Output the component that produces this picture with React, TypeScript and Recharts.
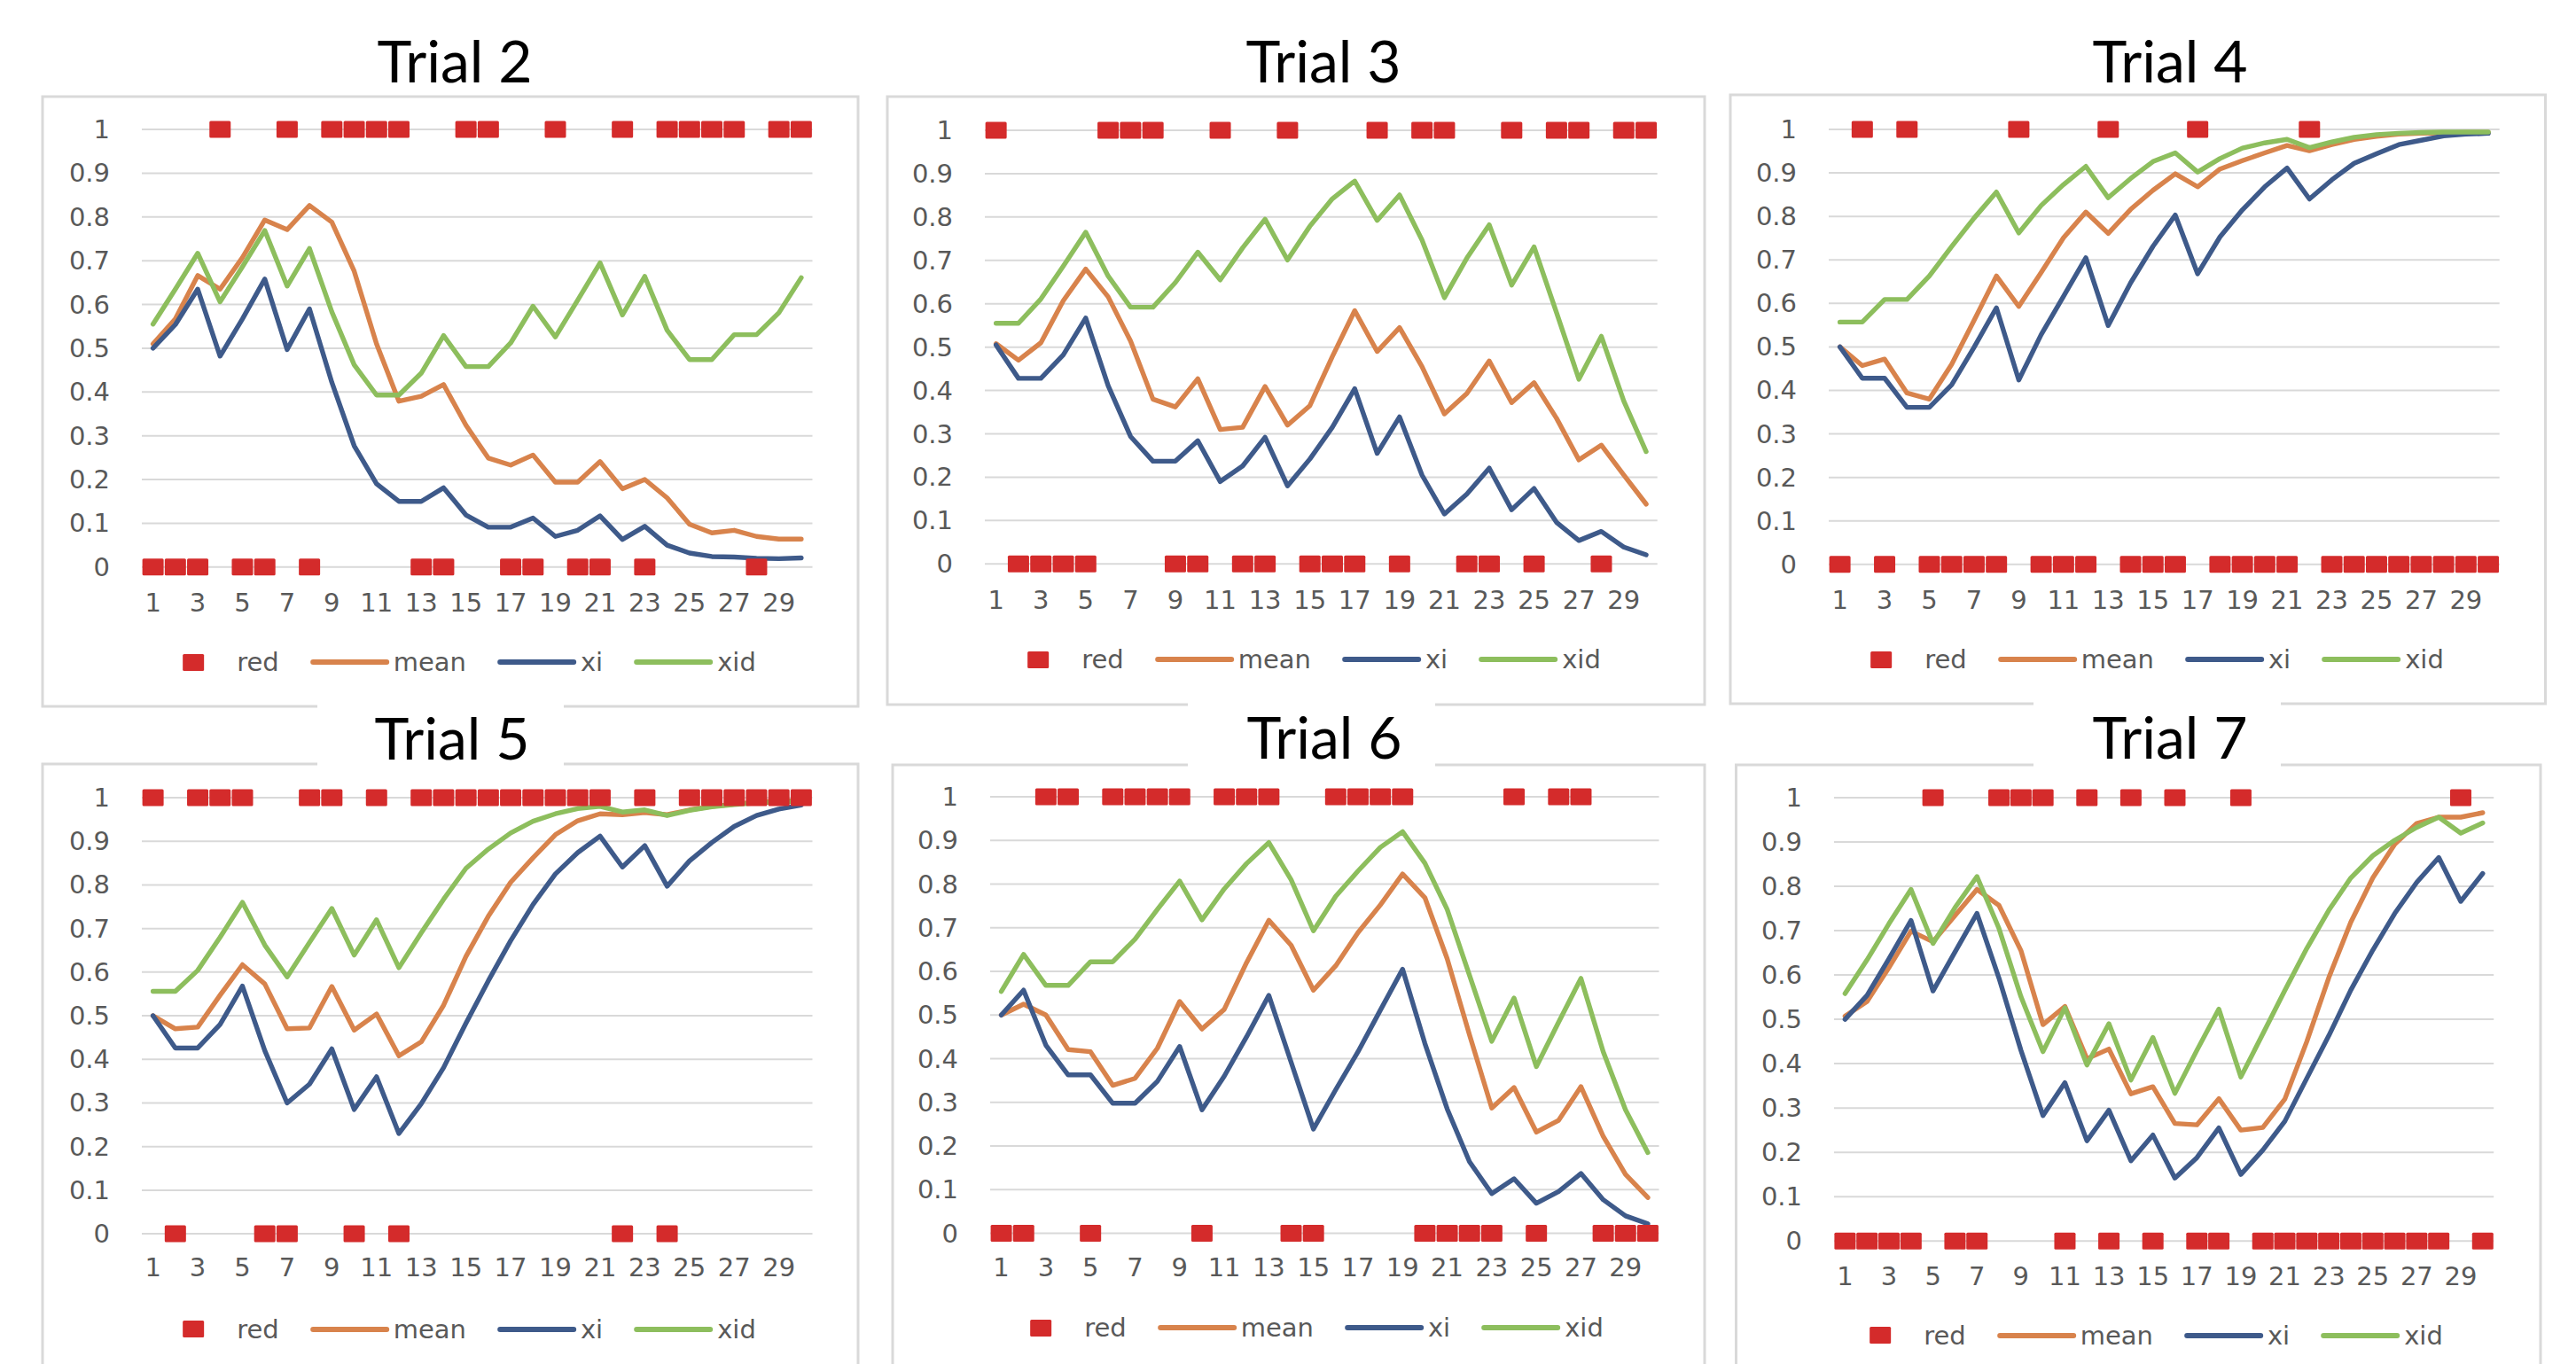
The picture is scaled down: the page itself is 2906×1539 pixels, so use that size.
import React from 'react';
import { LineChart, Line, XAxis, YAxis, CartesianGrid } from 'recharts';

// ---------- data ----------
const categories = [1, 2, 3, 4, 5, 6, 7, 8, 9, 10, 11, 12, 13, 14, 15, 16, 17, 18, 19, 20, 21, 22, 23, 24, 25, 26, 27, 28, 29, 30];
const yTicks = [0, 0.1, 0.2, 0.3, 0.4, 0.5, 0.6, 0.7, 0.8, 0.9, 1];
const seriesNames = ['red', 'mean', 'xi', 'xid'];
const trialTitles = ['Trial 2', 'Trial 3', 'Trial 4', 'Trial 5', 'Trial 6', 'Trial 7'];

const t2Red = [0, 0, 0, 1, 0, 0, 1, 0, 1, 1, 1, 1, 0, 0, 1, 1, 0, 0, 1, 0, 0, 1, 0, 1, 1, 1, 1, 0, 1, 1];
const t2Mean = [0.51, 0.567, 0.666, 0.635, 0.707, 0.793, 0.771, 0.826, 0.788, 0.676, 0.51, 0.379, 0.39, 0.417, 0.324, 0.249, 0.233, 0.256, 0.194, 0.194, 0.241, 0.179, 0.2, 0.158, 0.098, 0.078, 0.084, 0.07, 0.064, 0.064];
const t2Xi = [0.5, 0.554, 0.635, 0.482, 0.567, 0.658, 0.497, 0.59, 0.422, 0.277, 0.19, 0.15, 0.15, 0.181, 0.119, 0.091, 0.091, 0.112, 0.07, 0.084, 0.117, 0.063, 0.093, 0.05, 0.032, 0.024, 0.023, 0.02, 0.019, 0.021];
const t2Xid = [0.555, 0.635, 0.717, 0.606, 0.686, 0.769, 0.642, 0.728, 0.583, 0.462, 0.393, 0.393, 0.443, 0.529, 0.458, 0.458, 0.512, 0.596, 0.526, 0.61, 0.695, 0.576, 0.664, 0.541, 0.474, 0.474, 0.531, 0.531, 0.581, 0.661];

const t3Red = [1, 0, 0, 0, 0, 1, 1, 1, 0, 0, 1, 0, 0, 1, 0, 0, 0, 1, 0, 1, 1, 0, 0, 1, 0, 1, 1, 0, 1, 1];
const t3Mean = [0.508, 0.47, 0.51, 0.607, 0.68, 0.616, 0.514, 0.38, 0.362, 0.427, 0.31, 0.315, 0.409, 0.32, 0.365, 0.478, 0.584, 0.49, 0.545, 0.455, 0.346, 0.393, 0.468, 0.372, 0.418, 0.336, 0.24, 0.274, 0.205, 0.138];
const t3Xi = [0.505, 0.428, 0.428, 0.482, 0.567, 0.411, 0.294, 0.237, 0.237, 0.284, 0.19, 0.226, 0.292, 0.18, 0.242, 0.315, 0.404, 0.255, 0.339, 0.205, 0.115, 0.161, 0.221, 0.125, 0.174, 0.096, 0.054, 0.075, 0.039, 0.021];
const t3Xid = [0.555, 0.555, 0.611, 0.687, 0.765, 0.664, 0.592, 0.592, 0.649, 0.719, 0.655, 0.729, 0.795, 0.701, 0.779, 0.842, 0.883, 0.792, 0.851, 0.747, 0.614, 0.705, 0.782, 0.643, 0.731, 0.58, 0.426, 0.525, 0.376, 0.259];

const t4Red = [0, 1, 0, 1, 0, 0, 0, 0, 1, 0, 0, 0, 1, 0, 0, 0, 1, 0, 0, 0, 0, 1, 0, 0, 0, 0, 0, 0, 0, 0];
const t4Mean = [0.5, 0.457, 0.472, 0.394, 0.38, 0.46, 0.561, 0.663, 0.593, 0.671, 0.751, 0.81, 0.761, 0.816, 0.86, 0.898, 0.868, 0.909, 0.928, 0.946, 0.963, 0.951, 0.965, 0.977, 0.984, 0.989, 0.991, 0.992, 0.993, 0.993];
const t4Xi = [0.5, 0.428, 0.428, 0.361, 0.361, 0.413, 0.499, 0.59, 0.424, 0.528, 0.616, 0.705, 0.549, 0.647, 0.731, 0.803, 0.668, 0.753, 0.815, 0.868, 0.911, 0.84, 0.884, 0.922, 0.944, 0.965, 0.975, 0.985, 0.989, 0.991];
const t4Xid = [0.557, 0.557, 0.609, 0.609, 0.663, 0.731, 0.796, 0.856, 0.762, 0.825, 0.873, 0.915, 0.843, 0.887, 0.926, 0.946, 0.902, 0.933, 0.957, 0.969, 0.977, 0.958, 0.971, 0.982, 0.988, 0.991, 0.993, 0.994, 0.994, 0.994];

const t5Red = [1, 0, 1, 1, 1, 0, 0, 1, 1, 0, 1, 0, 1, 1, 1, 1, 1, 1, 1, 1, 1, 0, 1, 0, 1, 1, 1, 1, 1, 1];
const t5Mean = [0.5, 0.47, 0.474, 0.547, 0.617, 0.573, 0.47, 0.472, 0.567, 0.467, 0.504, 0.408, 0.44, 0.524, 0.636, 0.728, 0.806, 0.862, 0.915, 0.947, 0.963, 0.961, 0.966, 0.961, 0.972, 0.98, 0.985, 0.99, 0.992, 0.993];
const t5Xi = [0.5, 0.426, 0.426, 0.48, 0.568, 0.42, 0.3, 0.343, 0.424, 0.285, 0.36, 0.23, 0.298, 0.381, 0.483, 0.58, 0.672, 0.755, 0.825, 0.874, 0.912, 0.841, 0.89, 0.797, 0.855, 0.897, 0.934, 0.959, 0.974, 0.983];
const t5Xid = [0.556, 0.556, 0.604, 0.68, 0.76, 0.662, 0.589, 0.668, 0.746, 0.639, 0.72, 0.61, 0.69, 0.767, 0.838, 0.882, 0.919, 0.946, 0.963, 0.975, 0.98, 0.967, 0.972, 0.959, 0.971, 0.979, 0.984, 0.988, 0.99, 0.992];

const t6Red = [0, 0, 1, 1, 0, 1, 1, 1, 1, 0, 1, 1, 1, 0, 0, 1, 1, 1, 1, 0, 0, 0, 0, 1, 0, 1, 1, 0, 0, 0];
const t6Mean = [0.5, 0.525, 0.5, 0.421, 0.416, 0.339, 0.355, 0.424, 0.531, 0.468, 0.513, 0.62, 0.717, 0.66, 0.557, 0.613, 0.689, 0.752, 0.823, 0.769, 0.629, 0.455, 0.287, 0.334, 0.232, 0.259, 0.336, 0.222, 0.135, 0.082];
const t6Xi = [0.5, 0.557, 0.431, 0.363, 0.363, 0.298, 0.298, 0.348, 0.428, 0.283, 0.36, 0.45, 0.545, 0.392, 0.239, 0.329, 0.416, 0.511, 0.605, 0.435, 0.285, 0.164, 0.091, 0.125, 0.069, 0.096, 0.137, 0.077, 0.04, 0.022];
const t6Xid = [0.554, 0.639, 0.568, 0.568, 0.622, 0.622, 0.674, 0.742, 0.807, 0.718, 0.789, 0.847, 0.895, 0.81, 0.693, 0.772, 0.83, 0.884, 0.92, 0.848, 0.742, 0.591, 0.44, 0.539, 0.382, 0.484, 0.584, 0.416, 0.283, 0.185];

const t7Red = [0, 0, 0, 0, 1, 0, 0, 1, 1, 1, 0, 1, 0, 1, 0, 1, 0, 0, 1, 0, 0, 0, 0, 0, 0, 0, 0, 0, 1, 0];
const t7Mean = [0.507, 0.54, 0.617, 0.699, 0.675, 0.734, 0.793, 0.757, 0.655, 0.488, 0.529, 0.411, 0.433, 0.332, 0.348, 0.265, 0.262, 0.321, 0.25, 0.256, 0.32, 0.45, 0.594, 0.719, 0.819, 0.895, 0.942, 0.956, 0.956, 0.966];
const t7Xi = [0.5, 0.554, 0.637, 0.723, 0.564, 0.652, 0.739, 0.593, 0.43, 0.283, 0.357, 0.226, 0.295, 0.181, 0.239, 0.142, 0.188, 0.255, 0.15, 0.205, 0.27, 0.367, 0.463, 0.566, 0.656, 0.739, 0.809, 0.865, 0.766, 0.829];
const t7Xid = [0.558, 0.634, 0.716, 0.793, 0.671, 0.752, 0.822, 0.705, 0.551, 0.427, 0.526, 0.397, 0.49, 0.363, 0.459, 0.333, 0.43, 0.523, 0.37, 0.467, 0.565, 0.66, 0.746, 0.819, 0.869, 0.904, 0.933, 0.956, 0.92, 0.943];

const trialSeries = [
  [t2Red, t2Mean, t2Xi, t2Xid],
  [t3Red, t3Mean, t3Xi, t3Xid],
  [t4Red, t4Mean, t4Xi, t4Xid],
  [t5Red, t5Mean, t5Xi, t5Xid],
  [t6Red, t6Mean, t6Xi, t6Xid],
  [t7Red, t7Mean, t7Xi, t7Xid],
];

// ---------- styles / layout ----------
const COLORS = { red: '#D42B2B', mean: '#D8834C', xi: '#3E5A8A', xid: '#8DBE5D' };
const GRID = '#D9D9D9';
const TEXT = '#595959';
const TICK_FONT = '"DejaVu Sans", sans-serif';
const TITLE_FONT = 'Lato, "Open Sans", sans-serif';
const LINE_W = 5.4;

type Layout = {
  box: [number, number, number, number];
  plot: [number, number, number, number]; // left, top, right, bottom
  xLabelY: number;
  legend: [number, number];
  title: [number, number];
  titleBox?: [number, number];
};

const layouts: Layout[] = [
  { box: [48, 109, 968, 797], plot: [160, 145.7, 916.5, 639.5], xLabelY: 680, legend: [513, 747], title: [513, 92.7] },
  { box: [1001, 109, 1923, 795], plot: [1111, 146.9, 1869.7, 636.2], xLabelY: 677, legend: [1466, 744], title: [1493, 93] },
  { box: [1952, 107, 2871.5, 794], plot: [2063, 145.9, 2819.7, 636.7], xLabelY: 677, legend: [2417, 744], title: [2448, 93] },
  { box: [48, 862, 968, 1700], plot: [160, 899.9, 916.5, 1392], xLabelY: 1430, legend: [513, 1499.5], title: [510, 857], titleBox: [358, 636] },
  { box: [1007, 863, 1923, 1700], plot: [1117, 898.9, 1871.5, 1391.5], xLabelY: 1430, legend: [1469, 1498], title: [1494, 855.5], titleBox: [1340, 1619] },
  { box: [1958.5, 863, 2866, 1700], plot: [2069.4, 899.9, 2813.6, 1400.1], xLabelY: 1440, legend: [2416, 1506.7], title: [2448, 855.5], titleBox: [2294, 2573] },
];

const ML = 150; // space left of plot (y axis)
const MT = 30;
const MR = 30;
const MB = 80;

const fmtY = (v: number) => (Number.isInteger(v) ? String(v) : v.toFixed(1));

function Panel({ idx }: { idx: number }) {
  const L = layouts[idx];
  const [red, mean, xi, xid] = trialSeries[idx];
  const data = categories.map((c, i) => ({ x: c, red: red[i], mean: mean[i], xi: xi[i], xid: xid[i] }));
  const [pl, pt, pr, pb] = L.plot;
  const pw = pr - pl;
  const ph = pb - pt;
  const W = pw + ML + MR;
  const H = ph + MT + MB;
  const pad = pw / 60;
  const xLabelLocal = L.xLabelY - (pt - MT);

  const square = (props: any) => {
    const { cx, cy, index } = props;
    if (cx == null || cy == null) return <g key={`sq-${index}`} />;
    return <rect key={`sq-${index}`} x={cx - 12} y={cy - 9.5} width={24} height={19} rx={1.5} fill={COLORS.red} />;
  };

  const yTick = (props: any) => {
    const { y, payload } = props;
    return (
      <text x={ML - 36} y={y} textAnchor="end" dominantBaseline="central" fontFamily={TICK_FONT} fontSize={29} fill={TEXT}>
        {fmtY(payload.value)}
      </text>
    );
  };
  const xTick = (props: any) => {
    const { x, payload } = props;
    return (
      <text x={x} y={xLabelLocal} textAnchor="middle" dominantBaseline="central" fontFamily={TICK_FONT} fontSize={29} fill={TEXT}>
        {payload.value}
      </text>
    );
  };

  return (
    <div style={{ position: 'absolute', left: pl - ML, top: pt - MT, width: W, height: H }}>
      <LineChart width={W} height={H} data={data} margin={{ top: MT, right: MR, bottom: 0, left: 0 }}>
        <CartesianGrid vertical={false} stroke={GRID} strokeWidth={2} />
        <XAxis
          dataKey="x"
          type="category"
          interval={1}
          height={MB}
          axisLine={false}
          tickLine={false}
          padding={{ left: pad, right: pad }}
          tick={xTick}
        />
        <YAxis
          type="number"
          domain={[0, 1]}
          ticks={yTicks}
          interval={0}
          width={ML}
          axisLine={false}
          tickLine={false}
          tick={yTick}
        />
        <Line dataKey="red" stroke="none" isAnimationActive={false} dot={square} activeDot={false} legendType="square" />
        <Line dataKey="mean" stroke={COLORS.mean} strokeWidth={LINE_W} strokeLinejoin="round" strokeLinecap="round" dot={false} activeDot={false} isAnimationActive={false} />
        <Line dataKey="xi" stroke={COLORS.xi} strokeWidth={LINE_W} strokeLinejoin="round" strokeLinecap="round" dot={false} activeDot={false} isAnimationActive={false} />
        <Line dataKey="xid" stroke={COLORS.xid} strokeWidth={LINE_W} strokeLinejoin="round" strokeLinecap="round" dot={false} activeDot={false} isAnimationActive={false} />
      </LineChart>
    </div>
  );
}

function LegendRow({ idx }: { idx: number }) {
  const [cx, cy] = layouts[idx].legend;
  return (
    <div
      style={{
        position: 'absolute',
        left: cx,
        top: cy - 20,
        height: 40,
        transform: 'translateX(-50%)',
        display: 'flex',
        alignItems: 'center',
        whiteSpace: 'nowrap',
        fontFamily: TICK_FONT,
        fontSize: 29,
        color: TEXT,
      }}
    >
      {seriesNames.map((name, i) => (
        <div key={name} style={{ display: 'flex', alignItems: 'center', marginRight: i < seriesNames.length - 1 ? 35 : 0 }}>
          <div style={{ width: 89, height: 24, display: 'flex', alignItems: 'center', justifyContent: 'center', marginRight: 5 }}>
            {name === 'red' ? (
              <div style={{ width: 24, height: 19, background: COLORS.red, borderRadius: 1.5 }} />
            ) : (
              <div style={{ width: 89, height: 6, background: (COLORS as any)[name], borderRadius: 3 }} />
            )}
          </div>
          <span style={{ lineHeight: '40px' }}>{name}</span>
        </div>
      ))}
    </div>
  );
}

export default function App() {
  return (
    <div style={{ position: 'absolute', left: 0, top: 0, width: 2906, height: 1539, overflow: 'hidden', background: '#fff' }}>
      <svg width={2906} height={1539} style={{ position: 'absolute', left: 0, top: 0 }}>
        {layouts.map((L, i) => (
          <rect key={`b${i}`} x={L.box[0]} y={L.box[1]} width={L.box[2] - L.box[0]} height={L.box[3] - L.box[1]} fill="none" stroke={GRID} strokeWidth={3} />
        ))}
        {layouts.map((L, i) =>
          L.titleBox ? <rect key={`tb${i}`} x={L.titleBox[0]} y={788} width={L.titleBox[1] - L.titleBox[0]} height={80} fill="#fff" /> : null
        )}
        {layouts.map((L, i) => (
          <text key={`t${i}`} x={L.title[0]} y={L.title[1]} textAnchor="middle" fontFamily={TITLE_FONT} fontSize={66} fill="#000">
            {trialTitles[i]}
          </text>
        ))}
      </svg>
      {layouts.map((_, i) => (
        <Panel key={`p${i}`} idx={i} />
      ))}
      {layouts.map((_, i) => (
        <LegendRow key={`l${i}`} idx={i} />
      ))}
    </div>
  );
}
